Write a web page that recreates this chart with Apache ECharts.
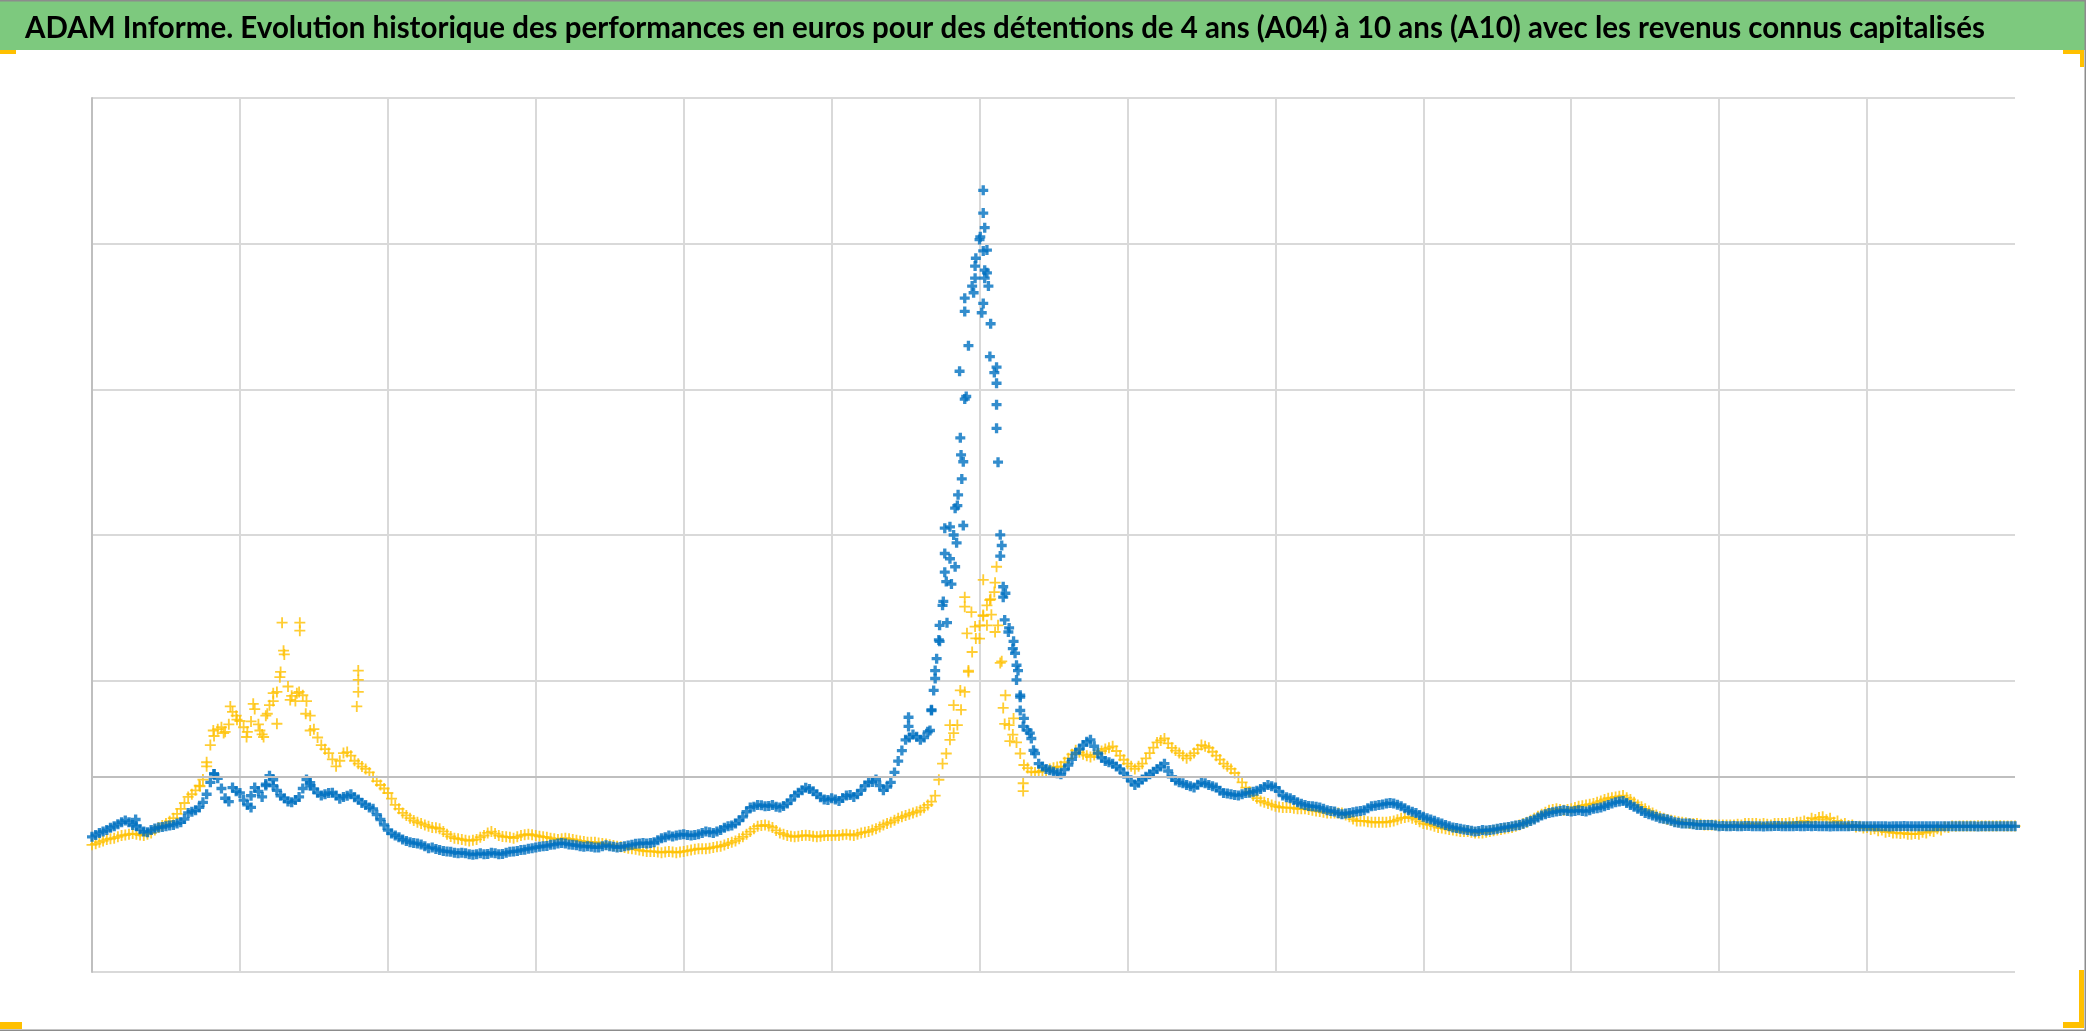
<!DOCTYPE html>
<html><head><meta charset="utf-8">
<script src="https://cdn.jsdelivr.net/npm/echarts@6/dist/echarts.min.js"></script>
<style>html,body{margin:0;padding:0;background:#fff}#chart{width:2086px;height:1031px}</style>
</head><body><div id="chart"></div>
<script>
const titleText = "ADAM Informe. Evolution historique des performances en euros pour des détentions de 4 ans (A04) à 10 ans (A10) avec les revenus connus capitalisés";
const seriesNames = ["A04", "A10"];
// x positions are observation indices (0..260), 20 per vertical gridline interval
// blue series, at whole indices
const blueVals = [
92.8,95.5,97.4,100.1,102.8,102.8,100.1,96.4,97.4,99.2,100.1,101,102.8,109.2,111,116.5,130.2,133,119.3,126.6,122.9,
114.7,126.6,120.2,134.8,124.7,119.3,116.5,120.2,132.1,125.7,121.1,122.9,121.1,120.2,122,118.4,114.7,112,104.7,97.4,
93.7,91,89.1,88.2,86.4,85.5,83.7,82.8,81.9,81.9,80.9,80.9,80.9,81.9,80.9,81.9,82.8,83.7,84.6,85.5,
86.4,87.3,88.2,88.2,87.3,86.4,86.4,85.5,86.4,86.4,85.5,86.4,87.3,88.2,88.2,89.1,91.9,93.7,93.7,94.6,
93.7,94.6,96.4,95.5,97.4,100.1,101.9,106.5,112.9,114.7,113.8,114.7,112.9,115.6,121.1,124.7,125.7,122,118.4,119.3,
117.4,121.1,120.2,124.7,130.2,132.1,124.7,130.2,144.8,159.4,163.1,159.4,164.9,201.5,251.7,283.7,320.2,393.3,470.9,502.8,
480,411.5,292.8,236.2,210.6,174.1,160.3,143,139.4,137.5,135.7,142.1,150.3,155.8,159.4,150.3,144.8,143,139.4,133.9,
128.4,132.1,135.7,139.4,143,133.9,130.2,128.4,126.6,130.2,128.4,126.6,122.9,122,121.1,122.9,123.8,125.7,128.4,126.6,
121.1,119.3,116.5,114.7,113.8,112.9,111,110.1,108.3,109.2,110.1,111,113.8,114.7,115.6,115.6,113.8,111,109.2,106.5,
104.7,102.8,101,99.2,98.3,97.4,96.4,97.4,97.4,98.3,99.2,100.1,101,102.8,104.7,107.4,109.2,110.1,111,110.1,
111,110.1,112,112.9,114.7,116.5,117.4,114.7,112,109.2,107.4,105.6,104.7,102.8,101.9,101.9,101,101,101,100.1,
100.1,100.3,100,100.2,100.1,99.9,100,100.2,100.1,100,100.1,100.3,100.2,100,99.9,100.1,100,100.2,100.1,100,
100,100.1,99.9,100,100.2,100.1,100,100,100.1,100,100,100.1,100,100,99.9,100,100,100.1,100,100
];
// blue series, observations between whole indices (index + 0.5)
const blueHalf = [
94,96.5,99,101.5,104,101,98,96,98.5,99.5,100.5,102,105,110,113,122,136,126,117,124,
118,121,124,129,128,121,117,118,126,128,123,122,123,119,121,120,116,113,108,101,
95,92.5,90,88.5,87.5,85,84.5,83,82.5,81.5,81.5,80.5,81.5,81,81.5,81,82.5,83,84,85,
86,86.5,87.5,88.5,87.5,87,86,86,85.5,87,86,85.8,86.8,88,88.6,88.5,90.5,92.5,93,94.2,
94,94,95.5,96,96.5,99,100.5,104,110,113.5,114.5,114,113.5,114,118,123,126.5,124,120,118,
118.5,119.5,121.5,122,128,130.5,128,127,137,152,161,161.5,161,180,228,268,300,355,430,490,
495,445,350,260,222,190,166,150,141,138.5,136.5,139,146,153,158,155,147,144,141,136.5,
131,130,134,137.5,141,138,131.5,129.5,127.5,128.5,129.5,127.5,124.5,122.5,121.5,122,123,124.5,127,127.5,
124,120,118,115.5,114,113.5,112,110.5,109,108.8,109.6,110.5,112.5,114.2,115,116,114.8,112.5,110,107.8,
105.5,103.8,102,100,98.8,97.8,97,96.8,97.2,97.8,98.8,99.6,100.5,101.8,103.6,106,108.3,109.6,110.6,110.5,
110.6,110.5,111,112.4,113.8,115.6,117,116,113.4,110.6,108.3,106.5,105.2,103.8,102.4,101.9,101.5,101,101,100.5,
100.2,100,100.1,100.2,100,100,100.1,100.2,100,100.1,100.2,100.1,100,100,100.1,100.1,100,100.1,100.2,100,
100,100.1,100,100.1,100.1,100,100,100.1,100,100,100.1,100,100,100,100.1,100,100,100,100.1,100.1
];
// yellow series, at whole indices
const yellowVals = [
87.3,89.1,91,91.9,93.7,94.6,94.6,93.7,95.5,99.2,101.9,105.6,112,120.2,124.7,132.1,155.8,166.7,164.9,178.6,172.3,
164.9,180.5,163.1,183.2,192.3,218,189.6,192.3,185.9,166.7,155.8,150.3,141.2,150.3,148.5,143,139.4,133.9,128.4,122.9,
114.7,109.2,105.6,102.8,101,99.2,98.3,94.6,91.9,91,90,91,93.7,96.4,93.7,92.8,91.9,93.7,94.6,93.7,
92.8,91.9,91,91.9,91,90,89.1,89.1,88.2,87.3,86.4,85.5,84.6,83.7,82.8,82.8,81.9,82.8,81.9,82.8,
83.7,84.6,84.6,85.5,86.4,88.2,90,92.8,96.4,100.1,101,99.2,95.5,93.7,92.8,93.7,93.7,92.8,93.7,93.7,
93.7,94.6,93.7,95.5,96.4,98.3,101,102.8,105.6,107.4,109.2,111,114.7,121.1,143,159.4,169.5,192.3,219.7,237.9,
251.7,260.8,213.3,169.5,157.6,142.1,137.5,137.5,138.4,140.3,141.2,146.7,152.2,149.4,147.6,150.3,153.1,154.9,148.5,143,
139.4,143,150.3,157.6,160.3,153.9,150.3,146.7,150.3,155.8,153.9,148.5,143,139.4,133.9,126.6,121.1,117.4,115.6,113.8,
112.9,112.9,112,112,111,110.1,109.2,109.2,109.2,106.5,103.7,103.7,102.8,102.8,102.8,103.7,105.6,106.5,104.7,101.9,
101,99.2,98.3,97.4,96.4,96.4,95.5,95.5,96.4,97.4,98.3,99.2,101,102.8,105.6,108.3,111,112,111,112,
113.8,114.7,115.6,117.4,119.3,120.2,121.1,118.4,114.7,112,109.2,106.5,104.7,103.7,102.8,101.9,101.9,101,101,101,
101,101,101,101.9,101.9,101.9,101,101.9,101.9,101.9,102.8,102.8,104.7,106.5,105.6,103.7,101.9,101,100.1,99.2,
98.3,97.4,96.4,95.5,95.5,94.6,94.6,95.5,96.4,97.4,99.2,100.1,100.3,100.2,100.4,100.3,100.2,100.4,100.3,100.2
];
// yellow series, observations between whole indices (index + 0.5)
const yellowHalf = [
88,90,91.5,92.8,94,95,94,94.6,97.5,100.5,103.5,108.5,116,122,128,144,162,168,170,176,
168,172,170,176,186,206,196,186,190,176,161,153,146,145,151,145,141,137,131,126,
119,112,107.5,104,102,100,99,96.5,93,91.5,90.5,90.5,92.5,95.5,95,93,92.5,92.8,94.2,94.2,
93.2,92.5,91.4,91.5,91.4,90.5,89.6,89.1,88.6,87.8,86.9,86,85,84.2,83.2,82.8,82.3,82.4,82.3,82.4,
83.2,84.2,84.6,85,86,87.2,89,91.4,94.5,98.4,100.6,100.2,97.2,94.6,93.2,93.2,93.8,93.2,93.2,93.7,
93.8,94.2,94.1,94.6,96,97.4,99.6,102,104.2,106.5,108.3,110,112.8,117,132,150,164,180,206,229,
245,256,238,190,163,150,140,137,138,139.4,140.8,144,149.4,150.8,148.5,149,151.7,154,151.7,145.7,
141.2,141.2,146.7,154,159,157,152,148.5,148.5,153,155,151.2,145.8,141.2,136.6,130.2,123.8,119.3,116.5,114.7,
113.3,112.9,112.4,112,111.5,110.6,109.6,109.2,109.2,107.8,105,103.7,103.2,102.8,102.8,103.2,104.6,106,105.6,103.2,
101.4,100.1,98.8,97.8,96.9,96.4,96,95.5,95.9,96.9,97.8,98.8,100.1,101.9,104.2,107,109.6,111.5,111.5,111.5,
113,114.2,115.2,116.5,118.4,119.7,120.6,119.7,116.5,113.4,110.6,107.8,105.6,104.2,103.2,102.4,101.9,101.5,101,101,
101,101,101.4,101.9,101.9,101.4,101.5,101.9,101.9,102.4,102.8,103.7,105.6,106,104.6,102.8,101.4,100.5,99.6,98.8,
97.8,96.9,96,95.5,95,94.6,95,96,96.9,98.3,99.6,100.2,100.3,100.3,100.3,100.3,100.3,100.3,100.3,100.2
];
// scattered additional observations (index, value)
const blueExtra = [
[5.9,104.7],[21.5,113],[24.5,132],[29.5,130],[16.5,136],[23.5,128],
[120.5,536.6],[120.5,521],[120.7,511],[120.1,504.7],[121,495.6],[119.4,484.6],[120.7,481.8],[120.7,476.3],[119.4,476.3],
[121.2,470.9],[119.2,466.3],[118,462.6],[118,453.5],[120.5,459],[120.3,452.6],[121.4,422.5],[122.3,415.2],[117.3,412.4],
[122.3,404.2],[118.2,395.1],[122.3,389.5],[122.3,373.2],[117.4,366.7],[117.8,350.3],[117.6,338.5],[117.1,327.6],
[116.7,318.4],[115.3,304.7],[116,305.6],[117.8,306.5],[116.9,294.6],[115.3,287.3],[116.7,278.2],[115.3,274.5],
[116.2,266.3],[115.1,254.4],[114.6,238],[115.6,239.8],[114.6,227],[114.2,215.1],[114,206.9],[113.8,193.3],
[113.5,179.5],[113.3,165.8],[110.4,174.9],[110.4,168.6],[122.8,300.1],[122.8,285.5],[123.2,264.5],[123.2,257.3],
[123.4,241.7],[123.9,233.4],[124.6,227],[124.8,218.8],[125.2,206.9],[125,200.5],[125.5,188.7],[125.5,179.5],
[125.9,168.6],[126.8,164],[127.3,152.2]
];
const yellowExtra = [
[25.7,239.8],[28.1,239.8],[28.1,234.3],[25.9,220.6],[25.4,202.4],[24.5,191.4],[21.8,184.1],[18.7,182.3],
[36,206.9],[36,200.5],[36,192.3],[35.8,182.3],[27.7,191.4],[26.8,186.8],[23.2,161.3],[25,170.4],[20.9,161.3],
[22.7,165.8],[16.4,165.8],[17.8,164],[19.6,173.2],[14.6,127.5],[15.5,141.2],[23.7,177.3],[28.9,177.3],[29.5,165.8],
[117.4,193.3],[118.5,206.9],[118.3,232.5],[118,257.3],[118,250.8],[119.4,237.1],[120.5,244.4],[120.5,269.2],
[121.4,255.4],[122.1,267.3],[122.3,278.2],[122.1,233.4],[122.8,212.2],[123.2,181.3],[123.4,170.3],[124.6,174.1],
[124.1,158.5],[125.9,124.2],[125.9,129.6],[120,228.9],[121,238],[121.6,245.3],[118.9,247.1],[116,169.5],[116.5,183.2]
];
const axisCrossValue = 134;
const xMin = 0, xMax = 260, xStep = 20;
const yMin = 0, yMax = 600, yStep = 100;

const fontFam = 'Lato, "Open Sans", "DejaVu Sans", sans-serif';
const titleSize = 31;
const cv = document.createElement('canvas').getContext('2d');
cv.font = 'bold ' + titleSize + 'px ' + fontFam;
const tw = cv.measureText(titleText).width;
const titleScaleX = 1960 / tw;

const chart = echarts.init(document.getElementById('chart'), null, {renderer: 'canvas'});
const toPts = (arr, off) => arr.map((v, i) => [i + off, v]);
const plusBold = 'path://M3,0h3v3h3v3h-3v3h-3v-3h-3v-3h3z';
const plusThin = 'path://M4,0h1.6v4h4v1.6h-4v4h-1.6v-4h-4v-1.6h4z';
const gridCol = '#D9D9D9', clear = 'rgba(0,0,0,0)';
const yCols = [gridCol, clear, gridCol, gridCol, gridCol, gridCol, gridCol];

chart.setOption({
  animation: false,
  backgroundColor: '#ffffff',
  grid: {left: 92, top: 98, width: 1923, height: 874, containLabel: false},
  xAxis: {type: 'value', min: xMin, max: xMax, interval: xStep,
    axisLabel: {show: false}, axisTick: {show: false}, axisLine: {show: false},
    splitLine: {show: true, showMaxLine: false, lineStyle: {color: gridCol, width: 2}}},
  yAxis: {type: 'value', min: yMin, max: yMax, interval: yStep,
    axisLabel: {show: false}, axisTick: {show: false},
    axisLine: {show: true, lineStyle: {color: '#BFBFBF', width: 2}},
    splitLine: {show: true, lineStyle: {color: yCols, width: 2}}},
  series: [
    {type: 'line', data: [], z: 1, silent: true,
      markLine: {silent: true, symbol: 'none', label: {show: false}, animation: false,
        lineStyle: {color: '#BFBFBF', width: 2, type: 'solid'}, data: [{yAxis: axisCrossValue}]}},
    {type: 'scatter', name: seriesNames[1],
      data: toPts(yellowVals, 0).concat(toPts(yellowHalf, 0.5), yellowExtra),
      symbol: plusThin, symbolSize: 11, itemStyle: {color: '#FFC000'}, silent: true, z: 2},
    {type: 'scatter', name: seriesNames[0],
      data: toPts(blueVals, 0).concat(toPts(blueHalf, 0.5), blueExtra),
      symbol: plusBold, symbolSize: 10, itemStyle: {color: '#0070C0'}, silent: true, z: 3}
  ],
  graphic: [
    {type: 'rect', shape: {x: 0, y: 0, width: 2086, height: 50}, style: {fill: '#7DC97E'}, z: 0},
    {type: 'rect', shape: {x: 0, y: 0, width: 2086, height: 1.5}, style: {fill: '#8C8C8C'}},
    {type: 'rect', shape: {x: 2084.5, y: 0, width: 1.5, height: 1031}, style: {fill: '#8C8C8C'}},
    {type: 'rect', shape: {x: 0, y: 1029.5, width: 2086, height: 1.5}, style: {fill: '#8C8C8C'}},
    {type: 'rect', shape: {x: 0, y: 50, width: 16, height: 4}, style: {fill: '#FFC000'}},
    {type: 'rect', shape: {x: 2063, y: 50, width: 21, height: 4}, style: {fill: '#FFC000'}},
    {type: 'rect', shape: {x: 2080, y: 50, width: 4, height: 17}, style: {fill: '#FFC000'}},
    {type: 'rect', shape: {x: 0, y: 1022, width: 22, height: 7}, style: {fill: '#FFC000'}},
    {type: 'rect', shape: {x: 2079, y: 970, width: 5, height: 58}, style: {fill: '#FFC000'}},
    {type: 'rect', shape: {x: 2063, y: 1022, width: 21, height: 6}, style: {fill: '#FFC000'}},
    {type: 'text', x: 25, y: 28, scaleX: titleScaleX, scaleY: 1,
      style: {text: titleText, fontSize: titleSize, fontWeight: 'bold',
      fontFamily: fontFam, fill: '#000000', align: 'left', verticalAlign: 'middle'}}
  ]
});
</script></body></html>
